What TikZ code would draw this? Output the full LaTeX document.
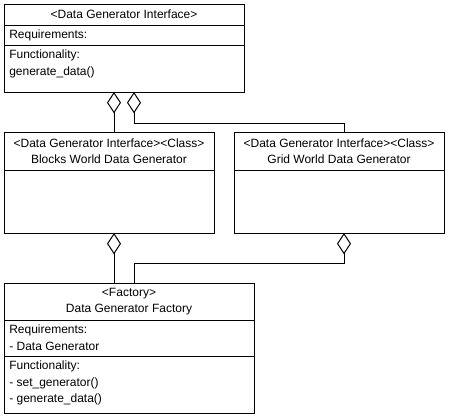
\documentclass[tikz,border=0pt]{standalone}
\usepackage{fontspec}
\setmainfont{Liberation Sans}
\usepackage{tikz}
\usetikzlibrary{arrows.meta, positioning, calc}
\tikzstyle{aggr} = [{Diamond[open, length=16pt, width=10.5pt]}-, line width=0.75pt]

\begin{document}
\begin{tikzpicture}[
        x=0.75pt, y=-0.75pt,
        node distance=0pt,
        every node/.style={font=\fontsize{9}{12.3}\selectfont},
        head/.style={rectangle, draw, line width=0.75pt, outer sep=0pt,
            inner sep=0pt, align=center},
        part/.style={rectangle, draw, line width=0.75pt, outer sep=0pt,
            inner sep=0pt},
        txt/.style={anchor=north west, inner xsep=3.75pt, inner ysep=3.5pt,
            align=left}
    ]
    \useasboundingbox (0,0) rectangle (449,418);

    % interface
    \node (ifaceT) [head, anchor=north west, minimum width=180pt,
        minimum height=15.75pt] at (4,4) {<Data Generator Interface>};
    \node (ifaceR) [part, below=of ifaceT, minimum width=180pt,
        minimum height=15pt, label={[txt]north west:Requirements:}] {};
    \node (ifaceF) [part, below=of ifaceR, minimum width=180pt,
        minimum height=35.25pt,
        label={[txt]north west:Functionality:\\generate\_data()}] {};

    % generators
    \node (blocksT) [head, anchor=north west, minimum width=157.5pt,
        minimum height=28.5pt] at (4,132)
        {<Data Generator Interface><Class>\\Blocks World Data Generator};
    \node (blocksB) [part, below=of blocksT, minimum width=157.5pt,
        minimum height=47.25pt] {};
    \node (gridT) [head, anchor=north west, minimum width=157.5pt,
        minimum height=28.5pt] at (234,132)
        {<Data Generator Interface><Class>\\Grid World Data Generator};
    \node (gridB) [part, below=of gridT, minimum width=157.5pt,
        minimum height=47.25pt] {};

    % factory
    \node (facT) [head, anchor=north west, minimum width=187.5pt,
        minimum height=27.75pt] at (4,283)
        {<Factory>\\Data Generator Factory};
    \node (facR) [part, below=of facT, minimum width=187.5pt,
        minimum height=27pt,
        label={[txt]north west:Requirements:\\- Data Generator}] {};
    \node (facF) [part, below=of facR, minimum width=187.5pt,
        minimum height=42.75pt,
        label={[txt]north west:Functionality:\\- set\_generator()\\- generate\_data()}] {};

    % aggregation links
    \coordinate (b1) at ($(blocksT.north west)+(110,0)$);
    \coordinate (i2) at ($(ifaceF.south west)+(130,0)$);
    \coordinate (g1) at ($(gridT.north west)+(110,0)$);
    \coordinate (f1) at ($(facT.north west)+(110,0)$);
    \coordinate (f2) at ($(facT.north west)+(130,0)$);
    \coordinate (g2) at ($(gridB.south west)+(110,0)$);

    \draw [aggr] (ifaceF.south -| b1) -- (b1);
    \draw [aggr] (i2) -- ++(0,31) -| (g1);
    \draw [aggr] (blocksB.south -| f1) -- (f1);
    \draw [aggr] (g2) -- ++(0,30) -| (f2);
\end{tikzpicture}
\end{document}
